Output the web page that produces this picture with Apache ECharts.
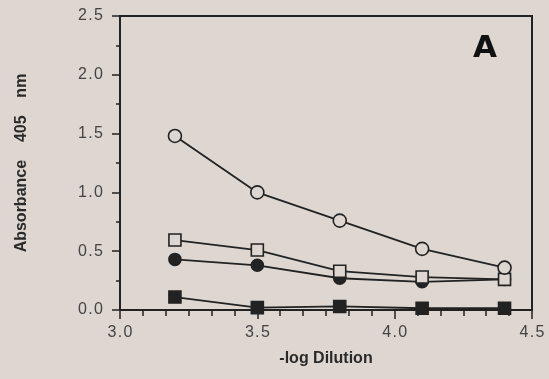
<!DOCTYPE html>
<html>
<head>
<meta charset="utf-8">
<script src="https://cdn.jsdelivr.net/npm/echarts@6/dist/echarts.min.js"></script>
<style>
  html, body { margin: 0; padding: 0; background: #ddd6d1; }
  #chart { width: 549px; height: 379px; }
</style>
</head>
<body>
<div id="chart"></div>
<script>
// -log dilution points
var dilution = [3.2, 3.5, 3.8, 4.1, 4.4];
var openCircle = [1.48, 1.00, 0.76, 0.52, 0.36];
var openSquare = [0.595, 0.51, 0.33, 0.28, 0.26];
var filledCircle = [0.43, 0.38, 0.27, 0.24, 0.26];
var filledSquare = [0.11, 0.02, 0.03, 0.015, 0.015];

var bg = '#ddd6d1';
var ink = '#222222';

function pairs(ys) {
    return dilution.map(function (x, i) { return [x, ys[i]]; });
}

// spread characters a little, like the typewriter-ish tick labels
function spread(s) {
    return s.split('').join('\u200a');
}

function mkSeries(ys, symbol, filled, size) {
    return {
        type: 'line',
        data: pairs(ys),
        symbol: symbol,
        symbolSize: size,
        showAllSymbol: true,
        clip: false,
        lineStyle: { color: ink, width: 1.8 },
        itemStyle: {
            color: filled ? ink : bg,
            borderColor: ink,
            borderWidth: 1.6
        },
        emphasis: { disabled: true },
        animation: false
    };
}

var myChart = echarts.init(document.getElementById('chart'));
var option = {
    backgroundColor: bg,
    grid: {
        left: 120,
        right: 17,
        top: 16,
        bottom: 69,
        show: true,
        borderColor: ink,
        borderWidth: 2,
        backgroundColor: 'transparent'
    },
    xAxis: {
        type: 'value',
        min: 3.0,
        max: 4.5,
        interval: 0.5,
        name: '-log Dilution',
        nameLocation: 'middle',
        nameGap: 41,
        nameTextStyle: { fontFamily: 'Liberation Sans', fontWeight: 'bold', fontSize: 16, color: '#2a2a2a' },
        axisLine: { lineStyle: { color: ink, width: 2 } },
        axisTick: { length: 9, lineStyle: { color: ink, width: 1.5 } },
        minorTick: { show: true, splitNumber: 6, length: 6, lineStyle: { color: ink, width: 1.5 } },
        splitLine: { show: false },
        axisLabel: {
            margin: 15,
            fontFamily: 'Liberation Sans',
            fontSize: 16,
            color: '#444',
            formatter: function (v) { return spread(v.toFixed(1)); }
        }
    },
    yAxis: {
        type: 'value',
        min: 0,
        max: 2.5,
        interval: 0.5,
        name: 'Absorbance    405    nm',
        nameLocation: 'middle',
        nameGap: 90,
        nameTextStyle: { fontFamily: 'Liberation Sans', fontWeight: 'bold', fontSize: 16, color: '#2a2a2a' },
        axisLine: { show: true, lineStyle: { color: ink, width: 2 } },
        axisTick: { length: 8, lineStyle: { color: ink, width: 1.5 } },
        minorTick: { show: true, splitNumber: 2, length: 4, lineStyle: { color: ink, width: 1.5 } },
        splitLine: { show: false },
        axisLabel: {
            margin: 17,
            fontFamily: 'Liberation Sans',
            fontSize: 16,
            color: '#444',
            formatter: function (v) { return spread(v.toFixed(1)); }
        }
    },
    graphic: [{
        type: 'text',
        x: 485,
        y: 49,
        style: {
            text: 'A',
            font: 'bold 31px "DejaVu Sans"',
            fill: '#111',
            textAlign: 'center',
            textVerticalAlign: 'middle'
        }
    }],
    series: [
        mkSeries(filledSquare, 'rect', true, 12),
        mkSeries(filledCircle, 'circle', true, 12),
        mkSeries(openSquare, 'rect', false, 12),
        mkSeries(openCircle, 'circle', false, 13)
    ]
};
myChart.setOption(option);
</script>
</body>
</html>
